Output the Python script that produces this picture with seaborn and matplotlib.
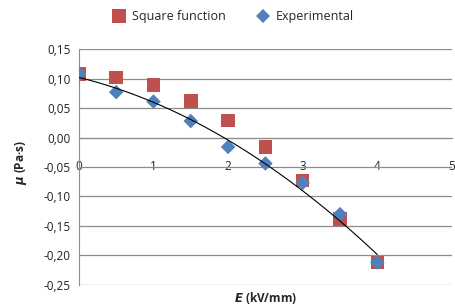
import numpy as np
import pandas as pd
import matplotlib
matplotlib.use('Agg')
import matplotlib.pyplot as plt
import seaborn as sns

# data
e_field = [0, 0.5, 1, 1.5, 2, 2.5, 3, 3.5, 4]
mu_square = [0.108, 0.102, 0.089, 0.062, 0.029, -0.016, -0.073, -0.138, -0.212]
mu_exp = [0.109, 0.077, 0.061, 0.028, -0.016, -0.044, -0.077, -0.130, -0.212]
series_names = ['Square function', 'Experimental']
y_ticks = [0.15, 0.10, 0.05, 0.00, -0.05, -0.10, -0.15, -0.20, -0.25]
x_ticks = [0, 1, 2, 3, 4, 5]

df = pd.DataFrame({
    'E': e_field * 2,
    'mu': mu_square + mu_exp,
    'series': [series_names[0]] * len(e_field) + [series_names[1]] * len(e_field),
})

sns.set_style('white')
plt.rcParams['font.family'] = ['Open Sans', 'DejaVu Sans']

fig = plt.figure(figsize=(4.56, 3.07), dpi=100)
ax = fig.add_axes([0.173, 0.072, 0.818, 0.768])

palette = {'Square function': '#C0504D', 'Experimental': '#4F81BD'}
sns.scatterplot(data=df[df.series == series_names[0]], x='E', y='mu', hue='series',
                palette=palette, marker='s', s=95, linewidth=0, ax=ax, zorder=3)
sns.scatterplot(data=df[df.series == series_names[1]], x='E', y='mu', hue='series',
                palette=palette, marker='D', s=55, linewidth=0, ax=ax, zorder=4)

# 2nd order polynomial trend line of the experimental data
coef = np.polyfit(e_field, mu_exp, 2)
xs = np.linspace(0, 4, 100)
ax.plot(xs, np.polyval(coef, xs), color='black', lw=0.8, zorder=5)

ax.set_xlim(0, 5)
ax.set_ylim(-0.25, 0.15)
ax.set_yticks(y_ticks)
ax.set_yticklabels([f'{v:.2f}'.replace('.', ',') for v in y_ticks])
ax.set_xticks(x_ticks)
ax.set_xticklabels([str(v) for v in x_ticks])
ax.yaxis.grid(True, color='#8c8c8c', lw=0.9)
ax.set_axisbelow(True)

for side in ['top', 'right']:
    ax.spines[side].set_visible(False)
ax.spines['bottom'].set_position(('data', 0))
ax.spines['bottom'].set_color('#8c8c8c')
ax.spines['left'].set_color('#8c8c8c')
ax.tick_params(axis='both', which='both', direction='out', length=4,
               color='#8c8c8c', labelsize=8.5, labelcolor='#222222', pad=2)
ax.tick_params(axis='x', pad=12)

ax.set_xlabel('$\\mathbfit{E}$ (kV/mm)', fontsize=8.5, fontweight='bold')
ax.set_ylabel('$\\mathbfit{\\mu}$ (Pa·s)', fontsize=8.5, fontweight='bold')
ax.xaxis.set_label_coords(0.5, -0.02)
ax.yaxis.set_label_coords(-0.135, 0.52)

handles, labels = ax.get_legend_handles_labels()
ax.legend(handles, labels, loc='lower center', bbox_to_anchor=(0.405, 1.09), ncol=2,
          frameon=False, fontsize=9, handletextpad=0.0, columnspacing=2.0,
          borderaxespad=0)

fig.savefig('out.png', dpi=100)
